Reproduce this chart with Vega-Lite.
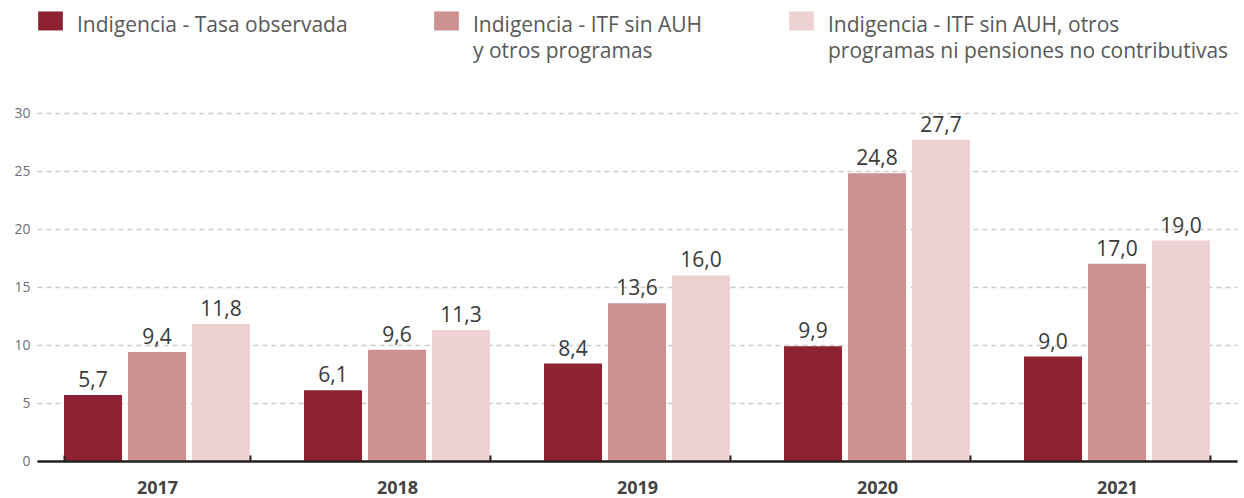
{
  "$schema": "https://vega.github.io/schema/vega-lite/v6.json",
  "width": 1200,
  "height": 348,
  "autosize": {"type": "none"},
  "padding": {"left": 37, "top": 113, "right": 7, "bottom": 37},
  "config": {
    "view": {"stroke": null},
    "font": "Open Sans",
    "locale": {"number": {"decimal": ",", "thousands": ".", "grouping": [3], "currency": ["$", ""]}}
  },
  "data": {
    "values": [
      {"anio": "2017", "serie": "Indigencia - Tasa observada", "valor": 5.7},
      {"anio": "2017", "serie": "Indigencia - ITF sin AUH y otros programas", "valor": 9.4},
      {"anio": "2017", "serie": "Indigencia - ITF sin AUH, otros programas ni pensiones no contributivas", "valor": 11.8},
      {"anio": "2018", "serie": "Indigencia - Tasa observada", "valor": 6.1},
      {"anio": "2018", "serie": "Indigencia - ITF sin AUH y otros programas", "valor": 9.6},
      {"anio": "2018", "serie": "Indigencia - ITF sin AUH, otros programas ni pensiones no contributivas", "valor": 11.3},
      {"anio": "2019", "serie": "Indigencia - Tasa observada", "valor": 8.4},
      {"anio": "2019", "serie": "Indigencia - ITF sin AUH y otros programas", "valor": 13.6},
      {"anio": "2019", "serie": "Indigencia - ITF sin AUH, otros programas ni pensiones no contributivas", "valor": 16.0},
      {"anio": "2020", "serie": "Indigencia - Tasa observada", "valor": 9.9},
      {"anio": "2020", "serie": "Indigencia - ITF sin AUH y otros programas", "valor": 24.8},
      {"anio": "2020", "serie": "Indigencia - ITF sin AUH, otros programas ni pensiones no contributivas", "valor": 27.7},
      {"anio": "2021", "serie": "Indigencia - Tasa observada", "valor": 9.0},
      {"anio": "2021", "serie": "Indigencia - ITF sin AUH y otros programas", "valor": 17.0},
      {"anio": "2021", "serie": "Indigencia - ITF sin AUH, otros programas ni pensiones no contributivas", "valor": 19.0}
    ]
  },
  "encoding": {
    "x": {
      "field": "anio", "type": "nominal", "title": null,
      "scale": {"paddingInner": 0.225, "paddingOuter": 0.1125},
      "axis": {
        "labelAngle": 0, "labelFont": "Open Sans", "labelFontWeight": "bold", "labelFontSize": 18,
        "labelColor": "#444444", "labelPadding": 24,
        "domainColor": "#222222", "domainWidth": 2.5,
        "tickBand": "extent", "tickColor": "#222222", "tickSize": -6, "tickWidth": 2,
        "ticks": true, "grid": false, "zindex": 1
      }
    },
    "xOffset": {"field": "serie", "type": "nominal", "sort": null, "scale": {"paddingInner": 0.094, "paddingOuter": 0}},
    "y": {
      "field": "valor", "type": "quantitative", "title": null,
      "scale": {"domain": [0, 30]},
      "axis": {
        "values": [0, 5, 10, 15, 20, 25, 30],
        "domain": false, "ticks": false, "labelPadding": 7,
        "labelFontSize": 14, "labelColor": "#707070", "labelFont": "Open Sans",
        "gridColor": "#cccccc", "gridDash": [5, 4], "gridWidth": 1.5
      }
    }
  },
  "layer": [
    {
      "mark": {"type": "bar"},
      "encoding": {
        "color": {
          "field": "serie", "type": "nominal", "sort": null,
          "scale": {
            "domain": ["Indigencia - Tasa observada", "Indigencia - ITF sin AUH y otros programas", "Indigencia - ITF sin AUH, otros programas ni pensiones no contributivas"],
            "range": ["#8C2232", "#CE9191", "#EED1D2"]
          },
          "legend": {
            "title": null, "orient": "none", "legendX": 3, "legendY": -109,
            "direction": "horizontal", "columns": 3, "gridAlign": "none",
            "columnPadding": 86,
            "symbolType": "M-1.3,-0.32H1.3V1.68H-1.3Z", "symbolSize": 361, "symbolStrokeWidth": 0,
            "labelFontSize": 21, "labelColor": "#595959", "labelFont": "Open Sans",
            "labelLimit": 500, "labelOffset": 16, "labelBaseline": "top",
            "labelExpr": "datum.label == 'Indigencia - Tasa observada' ? 'Indigencia - Tasa observada' : datum.label == 'Indigencia - ITF sin AUH y otros programas' ? ['Indigencia - ITF sin AUH', 'y otros programas'] : ['Indigencia - ITF sin AUH, otros', 'programas ni pensiones no contributivas']",
            "encoding": {"labels": {"lineHeight": {"value": 26}}}
          }
        }
      }
    },
    {
      "mark": {"type": "text", "baseline": "alphabetic", "dy": -8, "fontSize": 21, "color": "#3a3a3a", "font": "Open Sans"},
      "encoding": {
        "text": {"field": "valor", "type": "quantitative", "format": ".1f"}
      }
    }
  ]
}
